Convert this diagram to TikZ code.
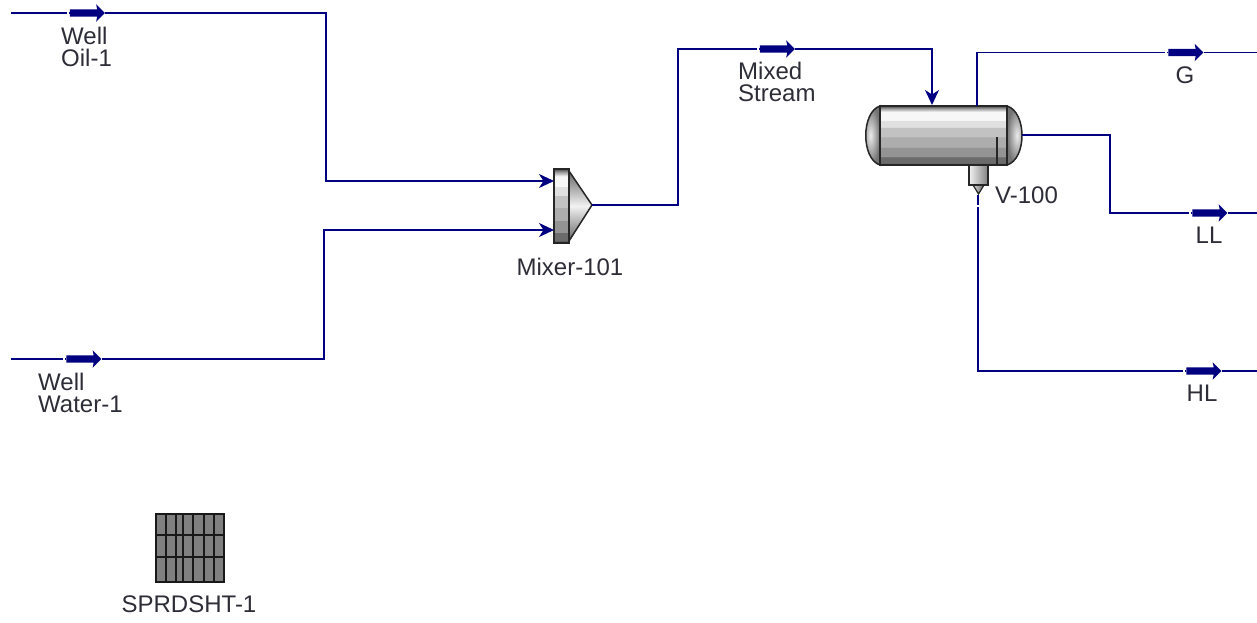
\documentclass[tikz,border=0pt]{standalone}
\usepackage{fontspec}
\setmainfont{Liberation Sans}
\usetikzlibrary{arrows.meta,shapes.arrows}
\definecolor{streamblue}{RGB}{0,0,128}
\definecolor{labelgrey}{RGB}{45,45,55}
\pgfdeclareverticalshading{bands}{100bp}{
  color(0bp)=(black!75); color(25bp)=(black!75);
  color(27bp)=(black!58); color(32bp)=(black!58);
  color(32bp)=(black!42); color(40bp)=(black!42);
  color(40bp)=(black!32); color(49bp)=(black!32);
  color(49bp)=(black!24); color(57bp)=(black!24);
  color(57bp)=(black!12); color(63bp)=(black!12);
  color(63bp)=(black!3); color(70bp)=(black!3);
  color(73bp)=(black!40); color(75bp)=(black!70); color(100bp)=(black!70)}
\tikzset{
  stream/.style={draw=streamblue, line width=1.8pt},
  inlet/.style={stream, -{Stealth[length=15pt, width=14pt, inset=4.5pt]}},
  streamtag/.style={single arrow, fill=streamblue, inner sep=3.5pt, minimum height=35pt,
    minimum width=17pt, single arrow head extend=5pt, single arrow head indent=1pt, anchor=center},
  gapline/.style={draw=white, line width=2.6pt},
  unit/.style={draw=black!85, line width=1.5pt, shading=bands, inner sep=0pt},
  endcap/.style={draw=black!85, line width=1.5pt, inner color=black!8, outer color=black!55},
  tag/.style={font=\fontsize{24}{21.5}\selectfont, text=labelgrey, inner sep=0pt, align=left},
}
\begin{document}
\begin{tikzpicture}[x=1pt, y=-1pt]
    \useasboundingbox (0,0) rectangle (1257,622);

    % unit ops
    \path[endcap] (880,106) .. controls (861,112) and (861,159) .. (880,165) -- cycle;
    \path[endcap] (1007,106) .. controls (1027,112) and (1027,159) .. (1007,165) -- cycle;
    \node[unit, minimum width=127pt, minimum height=59pt] (vessel) at (943.5,135.5) {};
    \draw[black!85, line width=1.5pt] (997,137) -- (997,165);
    \path[draw=black!85, line width=1.2pt, left color=black!15, right color=black!60] (973,185) -- (984,185) -- (978.5,194) -- cycle;
    \node[unit, minimum width=19pt, minimum height=20pt, left color=black!5, right color=black!50] (boot) at (978.5,175) {};
    \path[draw=black!85, line width=1.5pt, top color=black!60, bottom color=black!60, middle color=black!5] (569,171) -- (592,205) -- (569,241) -- cycle;
    \node[unit, minimum width=15pt, minimum height=74pt] (mixer) at (561.5,206) {};

    % ports and bends
    \coordinate (oilStart) at (11,13);
    \coordinate (waterStart) at (11,359);
    \coordinate (oilBend) at (326,181);
    \coordinate (waterBend) at (324,230);
    \coordinate (mixerInA) at (554,181);
    \coordinate (mixerInB) at (554,230);
    \coordinate (mixerOut) at (592,205);
    \coordinate (mixedBendA) at (678,205);
    \coordinate (mixedBendB) at (678,49);
    \coordinate (vesselIn) at (932,105);
    \coordinate (vesselBendG) at (977,52.5);
    \coordinate (vesselTop) at (977,106);
    \coordinate (vesselRight) at (1022,135);
    \coordinate (vesselBendL) at (1110,213);
    \coordinate (bootOut) at (978,195);
    \coordinate (bootBend) at (978,371);
    \coordinate (gEnd) at (1257,52.5);
    \coordinate (llEnd) at (1257,213);
    \coordinate (hlEnd) at (1257,371);

    % stream tags
    \node[streamtag] (oilTag) at (85.5,13) {};
    \node[streamtag] (waterTag) at (82,359) {};
    \node[streamtag] (mixedTag) at (775.5,49) {};
    \node[streamtag] (gTag) at (1184,52.5) {};
    \node[streamtag] (llTag) at (1208,213) {};
    \node[streamtag] (hlTag) at (1202,371) {};

    % streams
    \draw[stream] (oilStart) -- (oilTag.west);
    \draw[inlet] (oilTag.east) -| (oilBend) -- (mixerInA);
    \draw[stream] (waterStart) -- (waterTag.west);
    \draw[inlet] (waterTag.east) -| (waterBend) -- (mixerInB);
    \draw[stream] (mixerOut) -- (mixedBendA) -- (mixedBendB) -- (mixedTag.west);
    \draw[inlet] (mixedTag.east) -| (vesselIn);
    \draw[stream] (vesselTop) -- (vesselBendG) -- (gTag.west);
    \draw[stream] (gTag.east) -- (gEnd);
    \draw[stream] (vesselRight) -| (vesselBendL) -- (llTag.west);
    \draw[stream] (llTag.east) -- (llEnd);
    \draw[stream] (bootOut) -- (bootBend) -- (hlTag.west);
    \draw[stream] (hlTag.east) -- (hlEnd);

    % little breaks in front of the tags
    \draw[gapline] ([xshift=-1pt]oilTag.west) -- ++(-2,0);
    \draw[gapline] ([xshift=-1pt]waterTag.west) -- ++(-2,0);
    \draw[gapline] ([xshift=-1pt]mixedTag.west) -- ++(-2,0);
    \draw[gapline] ([xshift=-1pt]gTag.west) -- ++(-2,0);
    \draw[gapline] ([xshift=-1pt]llTag.west) -- ++(-2,0);
    \draw[gapline] ([xshift=-1pt]hlTag.west) -- ++(-2,0);
    \draw[gapline] (bootOut) ++(0,10) -- ++(0,2);

    % spreadsheet
    \node[fill=black!50, draw=black!90, line width=1.5pt, minimum width=68pt, minimum height=68pt, inner sep=0pt] (sheet) at (190,548) {};
    \foreach \x in {165.7,175.7,183.3,193.3,204,213.7}
        \draw[black!90, line width=1.8pt] (\x,514) -- (\x,582);
    \foreach \y in {535,557}
        \draw[black!90, line width=1.8pt] (156,\y) -- (224,\y);

    % labels
    \node[tag, anchor=north west] (oilLabel) at (61,27) {Well\\Oil-1};
    \node[tag, anchor=north west] (waterLabel) at (38,373) {Well\\Water-1};
    \node[tag, anchor=north west] (mixedLabel) at (738,62) {Mixed\\Stream};
    \node[tag, anchor=north] (mixerLabel) at (570,258) {Mixer-101};
    \node[tag, anchor=north west] (vesselLabel) at (995,187) {V-100};
    \node[tag, anchor=north] (gLabel) at (1185,67) {G};
    \node[tag, anchor=north] (llLabel) at (1209,227) {LL};
    \node[tag, anchor=north] (hlLabel) at (1202,385) {HL};
    \node[tag, anchor=north] (sheetLabel) at (189,596) {SPRDSHT-1};
\end{tikzpicture}
\end{document}
